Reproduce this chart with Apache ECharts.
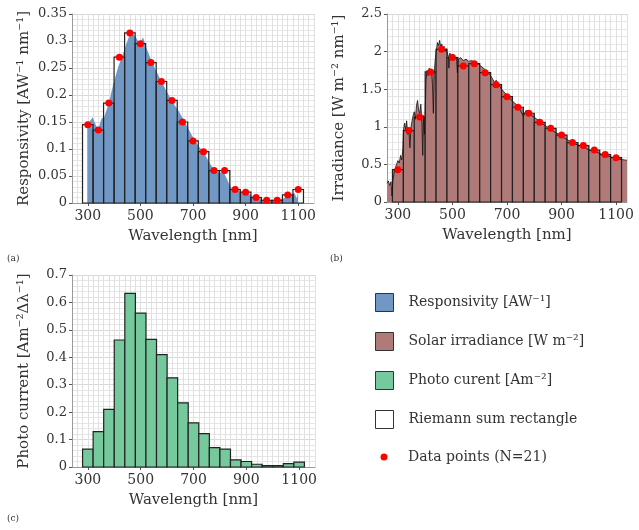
<!DOCTYPE html>
<html>
<head>
<meta charset="utf-8">
<script src="https://cdn.jsdelivr.net/npm/echarts@6/dist/echarts.min.js"></script>
<style>
  html, body { margin: 0; padding: 0; background: #fff; }
  #main { width: 639px; height: 530px; }
</style>
</head>
<body>
<div id="main"></div>
<script>
// bin centres (N=21), each Riemann rectangle is 40 nm wide
var wl = [300, 340, 380, 420, 460, 500, 540, 580, 620, 660, 700, 740, 780, 820, 860, 900, 940, 980, 1020, 1060, 1100];
var respPts = [0.145, 0.135, 0.185, 0.27, 0.315, 0.295, 0.26, 0.225, 0.19, 0.15, 0.115, 0.095, 0.06, 0.06, 0.025, 0.02, 0.01, 0.005, 0.005, 0.015, 0.025];
var irrPts = [0.43, 0.95, 1.13, 1.73, 2.03, 1.92, 1.81, 1.84, 1.72, 1.56, 1.40, 1.26, 1.18, 1.06, 0.98, 0.89, 0.79, 0.75, 0.69, 0.63, 0.59];
var currPts = [0.065, 0.129, 0.21, 0.463, 0.633, 0.561, 0.465, 0.41, 0.325, 0.234, 0.161, 0.122, 0.071, 0.065, 0.026, 0.02, 0.01, 0.005, 0.005, 0.012, 0.018];

// measured responsivity curve (blue area)
var respWl = [298, 308, 319, 330, 340, 348, 353, 362, 380, 398, 416, 435, 447, 460, 472, 484, 497, 510, 521, 546, 571, 596, 621, 646, 671, 696, 721, 740, 761, 780, 798, 817, 836, 848, 867, 879, 910, 941, 973, 1010, 1041, 1066, 1085, 1095, 1100];
var respVal = [0.144, 0.152, 0.159, 0.145, 0.136, 0.15, 0.157, 0.159, 0.185, 0.222, 0.253, 0.278, 0.296, 0.312, 0.313, 0.306, 0.295, 0.307, 0.29, 0.259, 0.234, 0.21, 0.188, 0.17, 0.148, 0.125, 0.105, 0.095, 0.076, 0.061, 0.056, 0.057, 0.037, 0.026, 0.032, 0.021, 0.017, 0.009, 0.005, 0.004, 0.008, 0.013, 0.019, 0.009, 0.022];

// solar spectrum (brown area, black line)
var specWl = [260, 265, 270, 275, 278, 282, 286, 290, 295, 300, 305, 310, 314, 318, 321, 325, 329, 332, 336, 340, 344, 348, 352, 356, 360, 364, 368, 372, 376, 380, 384, 388, 391, 394, 397, 400, 403, 407, 411, 415, 419, 423, 427, 430, 433, 437, 441, 445, 449, 453, 457, 461, 465, 469, 473, 477, 481, 485, 487, 490, 495, 500, 505, 510, 515, 518, 522, 530, 540, 550, 560, 570, 580, 590, 600, 620, 640, 656, 660, 680, 700, 720, 740, 760, 770, 790, 810, 830, 850, 870, 890, 910, 930, 950, 970, 990, 1010, 1030, 1050, 1070, 1090, 1110, 1130, 1140];
var specVal = [0.25, 0.28, 0.22, 0.27, 0.08, 0.3, 0.38, 0.45, 0.5, 0.55, 0.52, 0.62, 0.56, 0.7, 0.98, 1.05, 0.95, 1.08, 0.9, 0.98, 0.72, 1.0, 1.08, 1.15, 1.2, 1.1, 1.28, 1.35, 1.22, 1.18, 1.3, 1.05, 0.62, 1.15, 0.9, 1.2, 1.62, 1.75, 1.68, 1.78, 1.72, 1.76, 1.55, 1.18, 1.7, 1.9, 2.02, 2.12, 2.08, 2.15, 2.06, 2.1, 2.02, 2.07, 2.0, 2.04, 1.98, 1.94, 1.78, 1.98, 1.95, 1.93, 1.96, 1.9, 1.93, 1.72, 1.9, 1.92, 1.88, 1.9, 1.87, 1.88, 1.86, 1.85, 1.82, 1.76, 1.68, 1.58, 1.62, 1.5, 1.42, 1.34, 1.28, 1.14, 1.22, 1.15, 1.1, 1.04, 0.99, 0.94, 0.9, 0.85, 0.81, 0.77, 0.75, 0.71, 0.68, 0.66, 0.63, 0.61, 0.59, 0.57, 0.56, 0.555];

var tickWl = [300, 500, 700, 900, 1100];
var HALF = 20; // half bin width in nm

var FONT = 'DejaVu Serif';
var TXT = '#333';
var BLUE = '#7198c5';
var BROWN = '#b07a79';
var GREEN = '#76c99d';

function pairs(xs, ys) {
  return xs.map(function (x, i) { return [x, ys[i]]; });
}

// Riemann rectangle drawn through the axis scales
function rectRenderer(style) {
  return function (params, api) {
    var x = api.value(0), v = api.value(1);
    var p0 = api.coord([x - HALF, v]);
    var p1 = api.coord([x + HALF, 0]);
    return {
      type: 'rect',
      shape: { x: p0[0], y: p0[1], width: p1[0] - p0[0], height: p1[1] - p0[1] },
      style: style
    };
  };
}

function xMain(gi, min, max) {
  return {
    type: 'value', gridIndex: gi, min: min, max: max, position: 'bottom',
    name: 'Wavelength [nm]', nameLocation: 'middle', nameGap: 26,
    nameTextStyle: { fontFamily: FONT, fontSize: 15, color: TXT },
    axisLine: { show: true, lineStyle: { color: '#999', width: 1 } },
    axisTick: { show: true, length: 3, customValues: tickWl, lineStyle: { color: '#555' } },
    axisLabel: {
      customValues: tickWl, fontFamily: FONT, fontSize: 14, color: TXT, margin: 6,
      formatter: function (v) { return String(v); }
    },
    splitLine: { show: false }
  };
}
// second axis only for the fine 20 nm grid
function xGrid(gi, min, max) {
  return {
    type: 'value', gridIndex: gi, min: min, max: max, interval: 20, position: 'bottom',
    axisLine: { show: false }, axisTick: { show: false }, axisLabel: { show: false },
    splitLine: { show: true, lineStyle: { color: '#e0e0e0', width: 1 } }
  };
}
function yAxis(gi, max, interval, name, gap) {
  return {
    type: 'value', gridIndex: gi, min: 0, max: max, interval: interval,
    name: name, nameLocation: 'middle', nameGap: gap,
    nameTextStyle: { fontFamily: FONT, fontSize: 15, color: TXT },
    axisLine: { show: true, lineStyle: { color: '#999', width: 1 } },
    axisTick: { show: true, length: 3, lineStyle: { color: '#555' } },
    axisLabel: { fontFamily: FONT, fontSize: 13, color: TXT, margin: 5 },
    splitLine: { show: true, lineStyle: { color: '#d8d8d8', width: 1 } },
    minorTick: { show: false, splitNumber: 5 },
    minorSplitLine: { show: true, lineStyle: { color: '#e6e6e6', width: 1 } }
  };
}

var chart = echarts.init(document.getElementById('main'));

var option = {
  animation: false,
  backgroundColor: '#fff',
  grid: [
    { left: 72, top: 14, width: 242, height: 189 },
    { left: 387, top: 14, width: 240, height: 188 },
    { left: 72, top: 275, width: 243, height: 192 }
  ],
  xAxis: [
    xMain(0, 240, 1160), xGrid(0, 240, 1160),
    xMain(1, 260, 1140), xGrid(1, 260, 1140),
    xMain(2, 240, 1160), xGrid(2, 240, 1160)
  ],
  yAxis: [
    yAxis(0, 0.35, 0.05, 'Responsivity [AW⁻¹ nm⁻¹]', 40),
    yAxis(1, 2.5, 0.5, 'Irradiance [W m⁻² nm⁻¹]', 40),
    yAxis(2, 0.7, 0.1, 'Photo current [Am⁻²Δλ⁻¹]', 40)
  ],
  legend: [
    {
      left: 375, top: 293, padding: 0, orient: 'vertical', selectedMode: false,
      icon: 'rect', itemWidth: 18, itemHeight: 18, itemGap: 20,
      itemStyle: { borderColor: '#333', borderWidth: 1 },
      textStyle: { fontFamily: FONT, fontSize: 14, color: TXT, padding: [0, 0, 0, 10] },
      data: ['Responsivity [AW⁻¹]', 'Solar irradiance [W m⁻²]', 'Photo curent [Am⁻²]', 'Riemann sum rectangle']
    },
    {
      left: 380.5, top: 448, padding: 0, orient: 'vertical', selectedMode: false,
      icon: 'circle', itemWidth: 7, itemHeight: 7,
      itemStyle: { borderWidth: 0 },
      textStyle: { fontFamily: FONT, fontSize: 14, color: TXT, lineHeight: 18, padding: [0, 0, 0, 15.5] },
      data: ['Data points (N=21)']
    }
  ],
  graphic: [
    { type: 'text', left: 7, top: 254, style: { text: '(a)', font: '9px DejaVu Serif', fill: TXT } },
    { type: 'text', left: 330, top: 254, style: { text: '(b)', font: '9px DejaVu Serif', fill: TXT } },
    { type: 'text', left: 7, top: 514, style: { text: '(c)', font: '9px DejaVu Serif', fill: TXT } }
  ],
  series: [
    // (a) responsivity
    {
      name: 'Riemann sum rectangle', type: 'custom', xAxisIndex: 0, yAxisIndex: 0, z: 1,
      itemStyle: { color: '#fff' },
      renderItem: rectRenderer({ fill: '#fff' }),
      encode: { x: 0, y: 1 }, data: pairs(wl, respPts)
    },
    {
      name: 'Responsivity [AW⁻¹]', type: 'line', xAxisIndex: 0, yAxisIndex: 0, z: 2,
      showSymbol: false, itemStyle: { color: BLUE },
      lineStyle: { width: 0, opacity: 0 },
      areaStyle: { color: BLUE, opacity: 1 },
      data: pairs(respWl, respVal)
    },
    {
      name: 'rect outline a', type: 'custom', xAxisIndex: 0, yAxisIndex: 0, z: 3,
      renderItem: rectRenderer({ fill: 'none', stroke: '#222', lineWidth: 1.2 }),
      encode: { x: 0, y: 1 }, data: pairs(wl, respPts)
    },
    {
      name: 'Data points (N=21)', type: 'scatter', xAxisIndex: 0, yAxisIndex: 0, z: 4,
      symbolSize: 7, itemStyle: { color: '#ff0000', opacity: 1 },
      data: pairs(wl, respPts)
    },
    // (b) solar irradiance
    {
      name: 'spectrum area', type: 'line', xAxisIndex: 2, yAxisIndex: 1, z: 1,
      showSymbol: false, lineStyle: { width: 0, opacity: 0 },
      areaStyle: { color: BROWN, opacity: 1 },
      data: pairs(specWl, specVal)
    },
    {
      name: 'Solar irradiance [W m⁻²]', type: 'custom', xAxisIndex: 2, yAxisIndex: 1, z: 2,
      itemStyle: { color: BROWN },
      renderItem: rectRenderer({ fill: BROWN, stroke: '#222', lineWidth: 1.2 }),
      encode: { x: 0, y: 1 }, data: pairs(wl, irrPts)
    },
    {
      name: 'spectrum line', type: 'line', xAxisIndex: 2, yAxisIndex: 1, z: 3,
      showSymbol: false, lineStyle: { color: '#111', width: 0.8 },
      data: pairs(specWl, specVal)
    },
    {
      name: 'Data points (N=21)', type: 'scatter', xAxisIndex: 2, yAxisIndex: 1, z: 4,
      symbolSize: 7, itemStyle: { color: '#ff0000', opacity: 1 },
      data: pairs(wl, irrPts)
    },
    // (c) photo current
    {
      name: 'Photo curent [Am⁻²]', type: 'custom', xAxisIndex: 4, yAxisIndex: 2, z: 2,
      itemStyle: { color: GREEN },
      renderItem: rectRenderer({ fill: GREEN, stroke: '#222', lineWidth: 1.2 }),
      encode: { x: 0, y: 1 }, data: pairs(wl, currPts)
    }
  ]
};

chart.setOption(option);
</script>
</body>
</html>
